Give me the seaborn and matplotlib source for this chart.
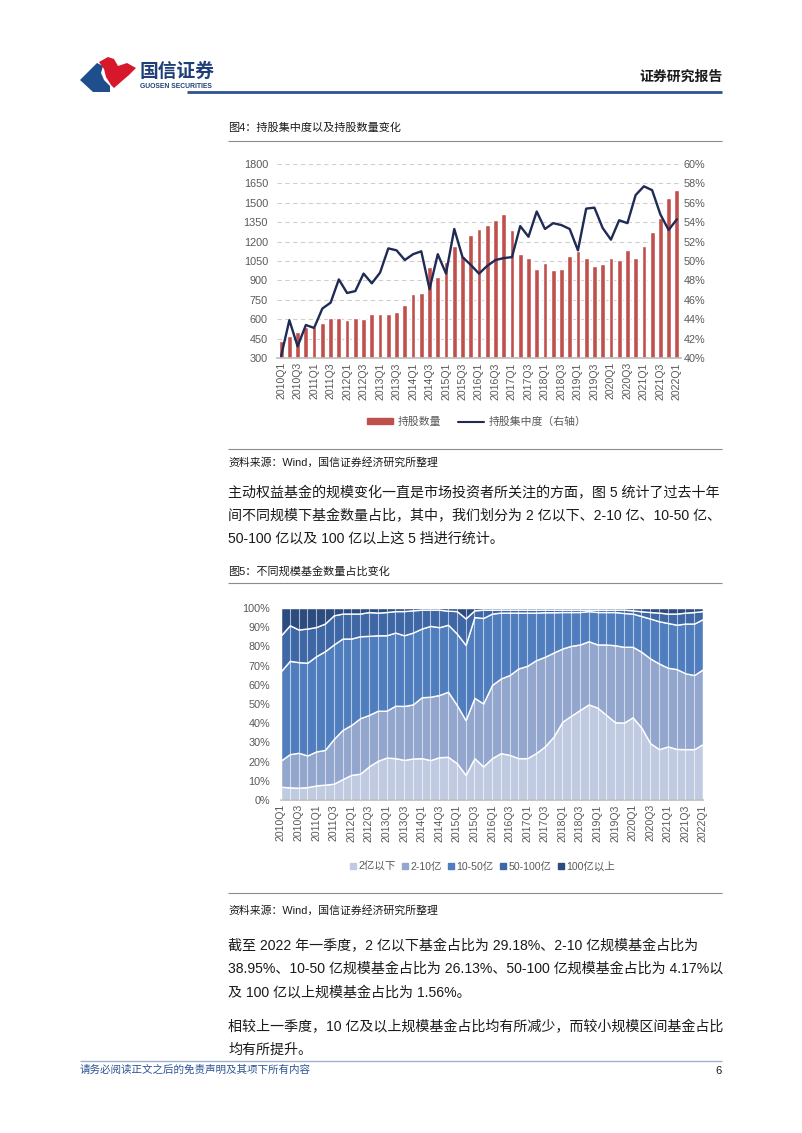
import numpy as np
import pandas as pd
import matplotlib
matplotlib.use("Agg")
import matplotlib.pyplot as plt
import seaborn as sns
from matplotlib.patches import Polygon, Patch
from matplotlib.lines import Line2D

# ---------------- data ----------------
quarters = [f"{y}Q{q}" for y in range(2010, 2023) for q in range(1, 5)][:49]

holdings = [434, 470, 503, 537, 542, 568, 611, 609, 596, 609,
            601, 637, 640, 640, 658, 707, 797, 804, 1000, 923,
            1044, 1167, 1085, 1249, 1296, 1327, 1365, 1412, 1291, 1103,
            1077, 987, 1033, 982, 987, 1090, 1128, 1074, 1008, 1023,
            1072, 1056, 1134, 1077, 1167, 1275, 1386, 1540, 1597]

concentration = [40.2, 43.9, 41.2, 43.4, 43.1, 45.1, 45.7, 48.1, 46.7, 46.9,
                 48.7, 47.7, 48.8, 51.3, 51.1, 50.1, 50.7, 51.0, 47.1, 50.7,
                 48.7, 53.3, 50.4, 49.6, 48.7, 49.5, 50.1, 50.3, 50.4, 53.6,
                 52.5, 55.1, 53.3, 53.9, 53.7, 53.3, 51.1, 55.4, 55.5, 53.4,
                 52.2, 54.2, 53.9, 56.8, 57.7, 57.3, 54.8, 53.2, 54.3]

size_labels = ["2亿以下", "2-10亿", "10-50亿", "50-100亿", "100亿以上"]
share_lt2 = [6.9, 6.6, 6.4, 6.7, 7.6, 8.0, 8.5, 10.9, 13.1, 13.7,
             17.5, 20.4, 22.1, 21.8, 20.9, 21.6, 21.8, 20.8, 22.3, 22.5,
             19.2, 13.1, 21.8, 17.5, 21.8, 24.4, 23.5, 21.8, 21.8, 24.4,
             27.9, 33.0, 40.8, 43.9, 46.9, 49.8, 48.1, 44.3, 40.5, 40.3,
             43.1, 37.7, 29.6, 26.5, 27.9, 26.6, 26.5, 26.5, 29.18]
share_2_10 = [13.7, 17.3, 18.2, 16.5, 17.7, 18.1, 23.3, 25.6, 26.0, 28.9,
              26.8, 26.1, 24.4, 27.3, 28.1, 28.2, 31.7, 33.0, 32.4, 33.9,
              30.3, 28.5, 31.4, 32.8, 38.1, 38.9, 41.6, 46.7, 48.1, 48.4,
              46.7, 43.8, 38.1, 36.4, 34.1, 32.9, 32.9, 36.7, 40.1, 39.5,
              36.7, 39.5, 44.1, 44.6, 41.0, 41.6, 39.5, 38.6, 38.95]
share_10_50 = [46.5, 48.6, 47.2, 48.3, 49.6, 51.4, 49.2, 47.6, 45.0, 42.7,
               41.2, 39.3, 39.3, 38.1, 36.8, 37.4, 35.8, 36.9, 35.3, 34.9,
               37.2, 39.2, 42.1, 44.5, 37.2, 34.3, 32.5, 29.1, 27.7, 24.8,
               23.2, 21.0, 19.0, 17.6, 16.9, 15.7, 16.9, 16.9, 17.3, 17.6,
               17.3, 18.6, 20.8, 22.0, 23.3, 23.1, 25.9, 26.8, 26.13]
share_50_100 = [18.7, 18.5, 17.0, 17.8, 15.2, 14.4, 15.2, 13.0, 13.0, 11.8,
                12.4, 11.8, 12.1, 11.2, 12.6, 11.6, 9.8, 8.4, 9.1, 7.3,
                11.7, 13.8, 3.5, 4.3, 2.0, 1.5, 1.5, 1.5, 1.5, 1.5,
                1.3, 1.3, 1.2, 1.2, 1.2, 0.7, 1.2, 1.2, 1.2, 1.7,
                1.7, 2.5, 3.4, 4.5, 4.9, 5.8, 5.7, 6.0, 4.17]
share_gt100 = [14.2, 9.0, 11.2, 10.7, 9.9, 8.1, 3.8, 2.9, 2.9, 2.9,
               2.1, 2.4, 2.1, 1.6, 1.6, 1.2, 0.9, 0.9, 0.9, 1.4,
               1.6, 5.4, 1.2, 0.9, 0.9, 0.9, 0.9, 0.9, 0.9, 0.9,
               0.9, 0.9, 0.9, 0.9, 0.9, 0.9, 0.9, 0.9, 0.9, 0.9,
               1.2, 1.7, 2.1, 2.4, 2.9, 2.9, 2.4, 2.1, 1.56]

left_ticks = [300, 450, 600, 750, 900, 1050, 1200, 1350, 1500, 1650, 1800]
right_ticks = [40, 42, 44, 46, 48, 50, 52, 54, 56, 58, 60]
pct_ticks = [0, 10, 20, 30, 40, 50, 60, 70, 80, 90, 100]

# ---------------- style ----------------
sns.set_theme(style="white")
FONTS = ["Liberation Sans", "Noto Sans CJK SC", "DejaVu Sans"]
plt.rcParams["font.family"] = FONTS
plt.rcParams["axes.unicode_minus"] = False

W, H = 802, 1133
fig = plt.figure(figsize=(W / 100, H / 100), dpi=100)
fig.patch.set_facecolor("white")


def fx(x):
    return x / W


def fy(y):
    return 1 - y / H


def box(l, t, r, b):
    return [l / W, 1 - b / H, (r - l) / W, (b - t) / H]


def hline(x0, x1, y, color, lw):
    fig.add_artist(Line2D([fx(x0), fx(x1)], [fy(y), fy(y)], transform=fig.transFigure,
                          color=color, lw=lw, solid_capstyle="butt"))


def txt(x, y, s, size, color="#1a1a1a", ha="left", **kw):
    fig.text(fx(x), fy(y), s, fontsize=size, color=color, ha=ha, va="center", **kw)


GRAY = "#595959"

# ---------------- header ----------------
blue_logo = [(80, 80), (97, 63), (103, 66), (101, 73), (104, 80), (110, 86), (110, 92), (93, 92)]
red_logo = [(99, 62), (108, 57), (114, 59), (118, 66), (127, 63), (136, 68), (129, 75),
            (122, 81), (114, 88), (111, 85), (106, 77), (104, 69)]
fig.add_artist(Polygon([(fx(a), fy(b)) for a, b in blue_logo], closed=True,
                       transform=fig.transFigure, color="#1F4E8C", lw=0))
fig.add_artist(Polygon([(fx(a), fy(b)) for a, b in red_logo], closed=True,
                       transform=fig.transFigure, color="#D7182A", lw=0))
txt(140, 72, "国信证券", 13.5, color="#1F3F78", fontweight="bold")
txt(140, 87, "GUOSEN SECURITIES", 4.9, color="#1F3F78", fontweight="bold")
txt(723, 77, "证券研究报告", 10, color="#1a1a1a", ha="right", fontweight="bold")
hline(187, 722, 92, "#2E5395", 2.0)

# ---------------- figure 4 ----------------
txt(228, 128, "图4：持股集中度以及持股数量变化", 8, color="#1a1a1a")
hline(228, 722, 141, "#8C8C8C", 0.8)

df1 = pd.DataFrame({"quarter": quarters, "holdings": holdings,
                    "conc": concentration, "idx": np.arange(len(quarters))})
ax1 = fig.add_axes(box(277, 164, 681, 358))
sns.barplot(data=df1, x="quarter", y="holdings", color="#C0504D", saturation=1,
            width=0.58, ax=ax1, zorder=2)
ax1.set_ylim(300, 1800)
ax1.set_yticks(left_ticks)
ax1.set_axisbelow(True)
ax1.yaxis.grid(True, ls=(0, (4, 3)), color="#CFCFCF", lw=0.8)
ax2 = ax1.twinx()
sns.lineplot(data=df1, x="idx", y="conc", color="#1F2A55", lw=1.7, ax=ax2, zorder=3)
ax2.set_ylim(40, 60)
ax2.set_yticks(right_ticks)
ax2.set_yticklabels([f"{v}%" for v in right_ticks])
ax1.set_xlim(-0.5, len(quarters) - 0.5)
ax1.set_xticks(range(0, len(quarters), 2))
ax1.set_xticklabels(quarters[::2], rotation=90)
for a in (ax1, ax2):
    a.set_xlabel("")
    a.set_ylabel("")
    for s in a.spines.values():
        s.set_visible(False)
ax1.spines["bottom"].set_visible(True)
ax1.spines["bottom"].set_color("#BFBFBF")
ax1.tick_params(axis="both", length=0, labelsize=7.8, labelcolor=GRAY)
ax1.tick_params(axis="y", pad=6.5)
ax1.tick_params(axis="x", pad=3, labelsize=7.6)
ax2.tick_params(axis="y", length=0, labelsize=7.8, labelcolor=GRAY, pad=2)

leg1 = fig.legend(handles=[Patch(color="#C0504D"), Line2D([], [], color="#1F2A55", lw=1.5)],
                  labels=["持股数量", "持股集中度（右轴）"], loc="center",
                  bbox_to_anchor=(fx(477), fy(422)), ncol=2, frameon=False, fontsize=7.8,
                  handlelength=2.4, handleheight=0.45, columnspacing=1.6, handletextpad=0.4)
for t in leg1.get_texts():
    t.set_color(GRAY)

hline(228, 722, 449, "#8C8C8C", 0.8)
txt(228, 462, "资料来源：Wind，国信证券经济研究所整理", 7.8, color="#1a1a1a")

# ---------------- paragraph 1 ----------------
P = 10.1
txt(228, 493, "主动权益基金的规模变化一直是市场投资者所关注的方面，图 5 统计了过去十年", P)
txt(228, 516, "间不同规模下基金数量占比，其中，我们划分为 2 亿以下、2-10 亿、10-50 亿、", P)
txt(228, 539, "50-100 亿以及 100 亿以上这 5 挡进行统计。", P)

# ---------------- figure 5 ----------------
txt(228, 571, "图5：不同规模基金数量占比变化", 8, color="#1a1a1a")
hline(228, 722, 583, "#8C8C8C", 0.8)

ax3 = fig.add_axes(box(281, 608, 703, 800))
xs = np.arange(len(quarters))
cols = ["#C0CBE2", "#93A6CD", "#4F7DBD", "#3E67A6", "#2C4C80"]
ax3.stackplot(xs, share_lt2, share_2_10, share_10_50, share_50_100, share_gt100,
              colors=cols, edgecolor="white", linewidth=1.0, labels=size_labels)
for xv in xs:
    ax3.axvline(xv, color="white", lw=0.8, alpha=0.6, zorder=3)
ax3.set_xlim(0, len(quarters) - 1)
ax3.set_ylim(0, 100)
ax3.set_yticks(pct_ticks)
ax3.set_yticklabels([f"{v}%" for v in pct_ticks])
ax3.set_xticks(range(0, len(quarters), 2))
ax3.set_xticklabels(quarters[::2], rotation=90)
for s in ax3.spines.values():
    s.set_visible(False)
ax3.spines["bottom"].set_visible(True)
ax3.spines["bottom"].set_color("#BFBFBF")
ax3.tick_params(axis="both", length=0, labelsize=7.8, labelcolor=GRAY)
ax3.tick_params(axis="y", pad=8)
ax3.tick_params(axis="x", pad=3, labelsize=7.6)

handles = [Line2D([], [], marker="s", ls="none", color=c, markersize=4.2) for c in cols]
leg2 = fig.legend(handles=handles, labels=size_labels, loc="center",
                  bbox_to_anchor=(fx(482), fy(867)), ncol=5, frameon=False, fontsize=7.6,
                  handlelength=0.8, handletextpad=0.1, columnspacing=0.5)
for t in leg2.get_texts():
    t.set_color(GRAY)

hline(228, 722, 893, "#8C8C8C", 0.8)
txt(228, 910, "资料来源：Wind，国信证券经济研究所整理", 7.8, color="#1a1a1a")

# ---------------- paragraphs 2 & 3 ----------------
txt(228, 946, "截至 2022 年一季度，2 亿以下基金占比为 29.18%、2-10 亿规模基金占比为", P)
txt(228, 969, "38.95%、10-50 亿规模基金占比为 26.13%、50-100 亿规模基金占比为 4.17%以", P)
txt(228, 993, "及 100 亿以上规模基金占比为 1.56%。", P)
txt(228, 1027, "相较上一季度，10 亿及以上规模基金占比均有所减少，而较小规模区间基金占比", P)
txt(228, 1050, "均有所提升。", P)

# ---------------- footer ----------------
hline(80, 722, 1061, "#9FB2CC", 1.0)
txt(80, 1070, "请务必阅读正文之后的免责声明及其项下所有内容", 7.6, color="#2E5395", style="italic")
txt(722, 1071, "6", 8, color="#1a1a1a", ha="right")

fig.savefig("out.png", dpi=100, facecolor="white")
